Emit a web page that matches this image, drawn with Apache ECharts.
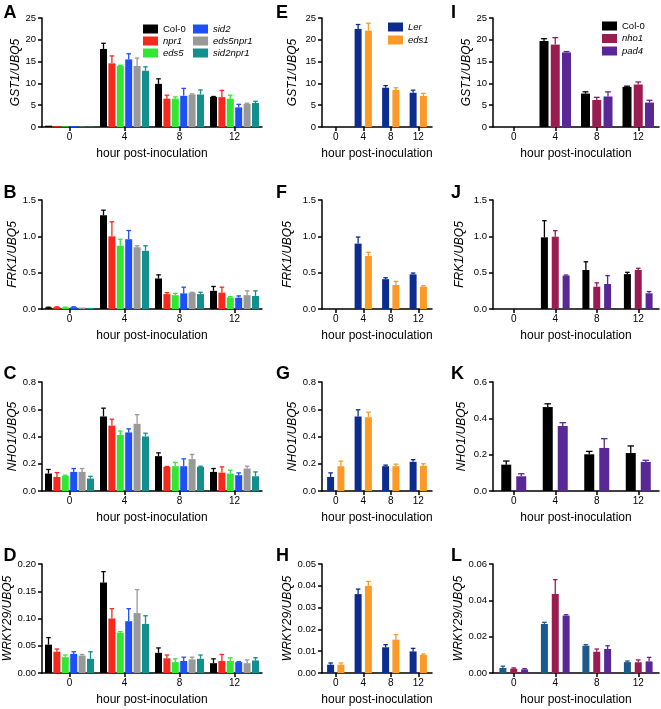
<!DOCTYPE html>
<html><head><meta charset="utf-8">
<script src="https://cdn.jsdelivr.net/npm/echarts@6/dist/echarts.min.js"></script>
<style>html,body{margin:0;padding:0;background:#fff}#c{width:661px;height:709px}</style>
</head><body><div id="c"></div>
<script>
// ---------------- DATA ----------------
const hours = ['0', '4', '8', '12'];
const groupA = ['Col-0', 'npr1', 'eds5', 'sid2', 'eds5npr1', 'sid2npr1'];
const groupE = ['Ler', 'eds1'];
const groupI = ['Col-0', 'nho1', 'pad4'];
const groupK = ['Col-0', 'pad4'];

// A: GST1/UBQ5
const A_mean = [[0.3,17.9,9.9,6.9],[0.2,14.6,6.5,6.85],[0.15,14.0,6.5,6.5],[0.2,15.5,7.15,4.5],[0.1,14.0,7.45,5.3],[0.1,12.9,7.45,5.5]];
const A_sd   = [[0,1.3,1.15,0.1],[0,1.7,0.8,1.55],[0,0.15,0.4,0.8],[0,1.3,1.7,0.7],[0,1.8,0.15,0.15],[0,0.9,1.05,0.4]];
// B: FRK1/UBQ5
const B_mean = [[0.02,1.29,0.42,0.25],[0.025,1.0,0.205,0.225],[0.02,0.87,0.19,0.16],[0.025,0.96,0.215,0.155],[0.02,0.85,0.225,0.19],[0.015,0.80,0.205,0.18]];
const B_sd   = [[0.005,0.07,0.05,0.06],[0.005,0.2,0.02,0.075],[0.005,0.09,0.025,0.01],[0.005,0.12,0.085,0.025],[0,0.02,0.005,0.06],[0,0.07,0.025,0.07]];
// C: NHO1/UBQ5
const C_mean = [[0.128,0.547,0.256,0.14],[0.103,0.48,0.177,0.135],[0.111,0.411,0.182,0.128],[0.14,0.43,0.182,0.116],[0.14,0.493,0.234,0.165],[0.091,0.40,0.177,0.108]];
const C_sd   = [[0.03,0.061,0.024,0.025],[0.032,0.047,0.003,0.042],[0.005,0.029,0.028,0.025],[0.025,0.026,0.054,0.017],[0.025,0.067,0.034,0.017],[0.017,0.024,0.005,0.032]];
// D: WRKY29/UBQ5
const D_mean = [[0.052,0.166,0.037,0.018],[0.039,0.10,0.027,0.022],[0.029,0.074,0.020,0.022],[0.035,0.095,0.022,0.020],[0.032,0.11,0.025,0.018],[0.026,0.09,0.026,0.023]];
const D_sd   = [[0.013,0.02,0.009,0.008],[0.005,0.018,0.006,0.012],[0.004,0.002,0.006,0.006],[0.004,0.023,0.007,0.001],[0.002,0.043,0.004,0.006],[0.013,0.015,0.007,0.005]];
// E: GST1/UBQ5 (Ler, eds1)
const E_mean = [[0,22.5,9.0,7.85],[0,22.1,8.5,7.1]];
const E_sd   = [[0,1.0,0.5,0.6],[0,1.7,0.5,0.6]];
// F: FRK1/UBQ5
const F_mean = [[0,0.90,0.41,0.477],[0,0.73,0.33,0.307]];
const F_sd   = [[0,0.09,0.02,0.018],[0,0.05,0.05,0.013]];
// G: NHO1/UBQ5
const G_mean = [[0.103,0.547,0.182,0.214],[0.182,0.541,0.182,0.185]];
const G_sd   = [[0.03,0.049,0.008,0.016],[0.037,0.037,0.015,0.015]];
// H: WRKY29/UBQ5
const H_mean = [[0.0038,0.0362,0.0118,0.0099],[0.0038,0.040,0.0153,0.0083]];
const H_sd   = [[0.0008,0.0023,0.0012,0.0014],[0.0008,0.002,0.0023,0.0004]];
// I: GST1/UBQ5 (Col-0, nho1, pad4)
const I_mean = [[0,19.7,7.67,9.2],[0,18.9,6.2,9.74],[0,17.1,7.0,5.6]];
const I_sd   = [[0,0.55,0.4,0.16],[0,1.6,0.6,0.6],[0,0.2,1.05,0.53]];
// J: FRK1/UBQ5
const J_mean = [[0,0.986,0.537,0.48],[0,0.995,0.307,0.537],[0,0.46,0.344,0.216]];
const J_sd   = [[0,0.23,0.113,0.025],[0,0.083,0.053,0.023],[0,0.008,0.115,0.024]];
// K: NHO1/UBQ5 (Col-0, pad4)
const K_mean = [[0.145,0.462,0.202,0.209],[0.081,0.358,0.237,0.16]];
const K_sd   = [[0.02,0.018,0.016,0.039],[0.014,0.018,0.051,0.009]];
// L: WRKY29/UBQ5
const L_mean = [[0.00275,0.027,0.015,0.006],[0.0024,0.0435,0.0117,0.0059],[0.002,0.0316,0.0132,0.0064]];
const L_sd   = [[0.001,0.0009,0.0006,0.0006],[0.0004,0.0079,0.0015,0.0013],[0.0004,0.0005,0.0018,0.0022]];

// y-axis scales: [max, step, decimals]
const scaleGST = [25, 5, 0];
const scaleFRK = [1.5, 0.5, 1];
const scaleNHO = [0.8, 0.2, 1];
const scaleNHO_K = [0.6, 0.2, 1];
const scaleWRKY = [0.20, 0.05, 2];
const scaleWRKY_H = [0.05, 0.01, 2];
const scaleWRKY_L = [0.06, 0.02, 2];

// ---------------- STYLE ----------------
const colA = ['#000000', '#f7281c', '#30e832', '#1e4ff7', '#999999', '#12908e'];
const colE = ['#0c2c8e', '#fb9a26'];
const colI = ['#000000', '#9a1c50', '#5a2896'];
const colK = ['#000000', '#5a2896'];
const colL = ['#1a5a8c', '#9a1c50', '#5a2896'];
const FONT = '"Liberation Sans", Arial, Helvetica, sans-serif';

const rowTop = [18, 200, 382, 564];
const H = 109;
const colLeft = [42, 322, 493];
const colW = [220, 110, 166];

const panels = [
  {L:'A', gene:'GST1/UBQ5',   names:groupA, mean:A_mean, sd:A_sd, sc:scaleGST,  col:colA, r:0, c:0, bw:7, gap:0.2, yGap:18},
  {L:'B', gene:'FRK1/UBQ5',   names:groupA, mean:B_mean, sd:B_sd, sc:scaleFRK,  col:colA, r:1, c:0, bw:7, gap:0.2, yGap:22},
  {L:'C', gene:'NHO1/UBQ5',   names:groupA, mean:C_mean, sd:C_sd, sc:scaleNHO,  col:colA, r:2, c:0, bw:7, gap:0.2, yGap:21},
  {L:'D', gene:'WRKY29/UBQ5', names:groupA, mean:D_mean, sd:D_sd, sc:scaleWRKY, col:colA, r:3, c:0, bw:7, gap:0.2, yGap:27},
  {L:'E', gene:'GST1/UBQ5',   names:groupE, mean:E_mean, sd:E_sd, sc:scaleGST,  col:colE, r:0, c:1, bw:7, gap:0.47, yGap:23},
  {L:'F', gene:'FRK1/UBQ5',   names:groupE, mean:F_mean, sd:F_sd, sc:scaleFRK,  col:colE, r:1, c:1, bw:7, gap:0.47, yGap:28},
  {L:'G', gene:'NHO1/UBQ5',   names:groupE, mean:G_mean, sd:G_sd, sc:scaleNHO,  col:colE, r:2, c:1, bw:7, gap:0.47, yGap:23},
  {L:'H', gene:'WRKY29/UBQ5', names:groupE, mean:H_mean, sd:H_sd, sc:scaleWRKY_H, col:colE, r:3, c:1, bw:7, gap:0.47, yGap:27},
  {L:'I', gene:'GST1/UBQ5',   names:groupI, mean:I_mean, sd:I_sd, sc:scaleGST,  col:colI, r:0, c:2, bw:9, gap:0.25, yGap:20},
  {L:'J', gene:'FRK1/UBQ5',   names:groupI, mean:J_mean, sd:J_sd, sc:scaleFRK,  col:colI, r:1, c:2, bw:7, gap:0.55, yGap:27},
  {L:'K', gene:'NHO1/UBQ5',   names:groupK, mean:K_mean, sd:K_sd, sc:scaleNHO_K, col:colK, r:2, c:2, bw:10, gap:0.5, yGap:25},
  {L:'L', gene:'WRKY29/UBQ5', names:groupI, mean:L_mean, sd:L_sd, sc:scaleWRKY_L, col:colL, r:3, c:2, bw:7, gap:0.55, yGap:28}
];

function makeErr(si, n, bw, gapR, color) {
  return function (params, api) {
    const ci = api.value(0), m = api.value(1), s = api.value(2);
    if (!(s > 0)) return null;
    const base = api.coord([ci, m]);
    const top = api.coord([ci, m + s]);
    const pitch = bw * (1 + gapR);
    const x = base[0] + (si - (n - 1) / 2) * pitch;
    const cw = Math.max(4, bw * 0.65);
    return {
      type: 'group',
      children: [
        {type: 'line', shape: {x1: x, y1: base[1], x2: x, y2: top[1]}, style: {stroke: color, lineWidth: 1.3}},
        {type: 'line', shape: {x1: x - cw / 2, y1: top[1], x2: x + cw / 2, y2: top[1]}, style: {stroke: color, lineWidth: 1.3}}
      ]
    };
  };
}

const grids = [], xAxes = [], yAxes = [], series = [], graphics = [];
const letterX = [3.5, 276, 451];
const letterY = [4, 184, 365, 547];

panels.forEach(function (p, k) {
  grids.push({left: colLeft[p.c], top: rowTop[p.r], width: colW[p.c], height: H, containLabel: false, outerBoundsMode: 'none'});
  xAxes.push({
    type: 'category', gridIndex: k, data: hours, boundaryGap: true,
    name: 'hour post-inoculation', nameLocation: 'middle', nameGap: 21,
    nameTextStyle: {fontFamily: FONT, fontSize: 12, color: '#000'},
    axisLine: {show: true, lineStyle: {color: '#000', width: 1.5}},
    axisTick: {show: true, alignWithLabel: true, length: 4, lineStyle: {color: '#000', width: 1.5}},
    axisLabel: {color: '#000', fontSize: 10, fontFamily: FONT, margin: 5},
    splitLine: {show: false}
  });
  yAxes.push({
    type: 'value', gridIndex: k, min: 0, max: p.sc[0], interval: p.sc[1],
    name: p.gene, nameLocation: 'middle', nameGap: p.yGap, nameRotate: 90,
    nameTextStyle: {fontFamily: FONT, fontSize: 12, fontStyle: 'italic', color: '#000'},
    axisLine: {show: true, lineStyle: {color: '#000', width: 1.5}},
    axisTick: {show: true, length: 4, lineStyle: {color: '#000', width: 1.5}},
    axisLabel: {color: '#000', fontSize: 9.5, fontFamily: FONT, margin: 6,
      formatter: function (v) { return v.toFixed(p.sc[2]); }},
    splitLine: {show: false}
  });
  p.names.forEach(function (nm, i) {
    series.push({
      type: 'bar', name: nm, xAxisIndex: k, yAxisIndex: k, data: p.mean[i],
      barWidth: p.bw, barGap: (p.gap * 100) + '%', itemStyle: {color: p.col[i]},
      silent: true, animation: false, z: 2
    });
    series.push({
      type: 'custom', xAxisIndex: k, yAxisIndex: k,
      data: p.mean[i].map(function (m, j) { return [j, m, p.sd[i][j]]; }),
      renderItem: makeErr(i, p.names.length, p.bw, p.gap, p.col[i]),
      silent: true, animation: false, z: 3
    });
  });
  graphics.push({
    type: 'text', x: letterX[p.c], y: letterY[p.r],
    style: {text: p.L, fontFamily: FONT, fontSize: 18, fontWeight: 'bold', fill: '#000', verticalAlign: 'top'}
  });
});

function legendItems(names) {
  return names.map(function (n) {
    return (n === 'Col-0') ? {name: n} : {name: n, textStyle: {fontStyle: 'italic'}};
  });
}
const legendBase = {
  orient: 'vertical', padding: 0, itemWidth: 15, itemHeight: 9, itemGap: 0, icon: 'rect',
  selectedMode: false, textStyle: {fontFamily: FONT, fontSize: 9.5, color: '#000', lineHeight: 12}
};
const legends = [
  Object.assign({}, legendBase, {left: 143, top: 23, data: legendItems(groupA.slice(0, 3))}),
  Object.assign({}, legendBase, {left: 193, top: 23, data: legendItems(groupA.slice(3, 6))}),
  Object.assign({}, legendBase, {left: 388, top: 21, itemGap: 1, data: legendItems(groupE)}),
  Object.assign({}, legendBase, {left: 602, top: 20, itemGap: 0.5, data: legendItems(groupI)})
];

const chart = echarts.init(document.getElementById('c'), null, {renderer: 'canvas'});
chart.setOption({
  backgroundColor: '#ffffff',
  animation: false,
  textStyle: {fontFamily: FONT},
  grid: grids, xAxis: xAxes, yAxis: yAxes, series: series,
  legend: legends, graphic: graphics, tooltip: {show: false}
});
</script>
</body></html>
